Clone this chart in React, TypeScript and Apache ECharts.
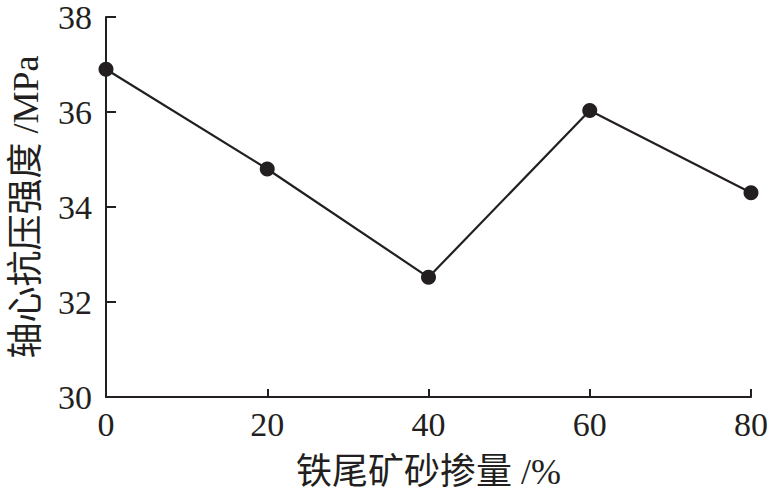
import React, { useEffect, useRef } from "react";
import * as echarts from "echarts";

const xValues = [0, 20, 40, 60, 80];
const strength = [36.9, 34.8, 32.52, 36.03, 34.3];
const xTicks = [0, 20, 40, 60, 80];
const yTicks = [30, 32, 34, 36, 38];

const INK = "#231f20";
const FONT = "'Liberation Serif', 'Noto Sans CJK SC', serif";

export default function App() {
  const ref = useRef<HTMLDivElement>(null);
  useEffect(() => {
    if (!ref.current) return;
    const chart = echarts.init(ref.current, undefined, { renderer: "svg" });
    chart.setOption({
      animation: false,
      backgroundColor: "#ffffff",
      grid: { left: 105, right: 18, top: 16, bottom: 99, containLabel: false },
      xAxis: {
        type: "value",
        min: xTicks[0],
        max: xTicks[xTicks.length - 1],
        interval: 20,
        name: "铁尾矿砂掺量 /%",
        nameLocation: "middle",
        nameGap: 57,
        nameTextStyle: { fontFamily: FONT, fontSize: 36, color: INK },
        axisLine: { show: true, lineStyle: { color: INK, width: 2 } },
        axisTick: { show: true, inside: true, length: 8, lineStyle: { color: INK, width: 2 } },
        axisLabel: { fontFamily: FONT, fontSize: 34, color: INK, margin: 10 },
        splitLine: { show: false },
      },
      yAxis: {
        type: "value",
        min: yTicks[0],
        max: yTicks[yTicks.length - 1],
        interval: 2,
        name: "轴心抗压强度 /MPa",
        nameLocation: "middle",
        nameGap: 62,
        nameTextStyle: { fontFamily: FONT, fontSize: 36, color: INK },
        axisLine: { show: true, lineStyle: { color: INK, width: 2 } },
        axisTick: { show: true, inside: true, length: 10, lineStyle: { color: INK, width: 2 } },
        axisLabel: { fontFamily: FONT, fontSize: 34, color: INK, margin: 14 },
        splitLine: { show: false },
      },
      series: [
        {
          type: "line",
          data: xValues.map((x, i) => [x, strength[i]]),
          symbol: "circle",
          symbolSize: 15,
          itemStyle: { color: INK },
          lineStyle: { color: INK, width: 2.2 },
        },
      ],
    });
    return () => chart.dispose();
  }, []);
  return <div ref={ref} style={{ width: 771, height: 496, position: "absolute", left: 0, top: 0 }} />;
}
